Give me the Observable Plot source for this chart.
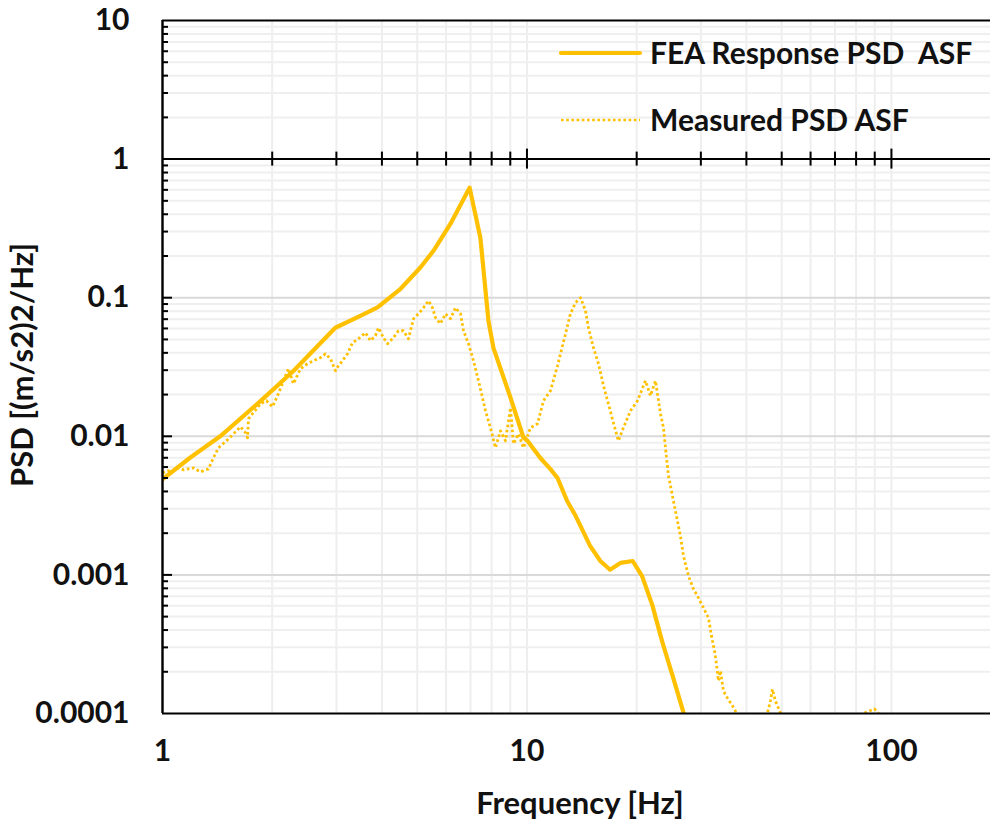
<!DOCTYPE html>
<html>
<head>
<meta charset="utf-8">
<script src="https://cdn.jsdelivr.net/npm/d3@7"></script>
<script src="https://cdn.jsdelivr.net/npm/@observablehq/plot@0.6"></script>
<style>
  html, body { margin: 0; padding: 0; background: #fff; }
  #chart { width: 990px; height: 823px; }
  svg text { font-family: Lato, "Open Sans", sans-serif; font-weight: 700; fill: #111; }
</style>
</head>
<body>
<div id="chart"></div>
<script>
// FEA response PSD (solid curve)
const feaFreq = [1.0, 1.19, 1.44, 1.86, 2.29, 2.98, 3.49, 3.89, 4.5, 5.1, 5.54, 6.17, 6.96, 7.45, 7.84, 8.09, 9.01, 9.78, 10.03, 10.87, 11.6, 12.13, 12.9, 13.6, 14.9, 15.9, 16.9, 18.05, 19.5, 20.7, 22.1, 23.5, 25.1, 26.9, 28.0];
const feaPsd  = [0.0049, 0.0070, 0.0100, 0.018, 0.0297, 0.0607, 0.074, 0.085, 0.116, 0.165, 0.218, 0.342, 0.622, 0.271, 0.068, 0.0435, 0.019, 0.0098, 0.0093, 0.0070, 0.0058, 0.0050, 0.0034, 0.00267, 0.00162, 0.00126, 0.00109, 0.00122, 0.00126, 0.00098, 0.00060, 0.00033, 0.000187, 0.000101, 0.00007];

// Measured PSD (dotted curve)
const measFreq = [1.000, 1.032, 1.072, 1.106, 1.142, 1.216, 1.271, 1.337, 1.380, 1.424, 1.508, 1.566, 1.637, 1.690, 1.711, 1.722, 1.857, 1.929, 2.003, 2.068,
  2.148, 2.216, 2.288, 2.391, 2.499, 2.596, 2.713, 2.800, 2.890, 2.983, 3.040, 3.118, 3.218, 3.321, 3.449, 3.605, 3.721, 3.840, 3.913, 4.039,
  4.143, 4.302, 4.440, 4.583, 4.731, 4.883, 5.040, 5.200, 5.368, 5.505, 5.610, 5.790, 5.976, 6.168, 6.366, 6.571, 6.697, 6.912, 7.134, 7.362,
  7.551, 7.695, 7.942, 8.197, 8.460, 8.730, 9.011, 9.183, 9.478, 9.781, 10.22, 10.69, 11.10, 11.60, 12.13, 12.36, 12.76, 13.16, 13.59, 14.03,
  14.47, 14.75, 15.22, 15.71, 16.22, 16.73, 17.27, 17.82, 18.39, 19.23, 20.10, 21.14, 21.82, 22.52, 23.25, 23.69, 23.99, 24.45, 25.07, 25.71,
  26.37, 26.88, 27.74, 28.63, 29.55, 30.50, 31.48, 32.08, 32.70, 33.11, 33.53, 33.96, 34.61, 35.49, 36.39, 37.33, 38.04, 41.05, 45.68, 46.56,
  47.15, 48.06, 49.61, 56.28, 89.83, 105.9];
const measPsd = [0.00545, 0.00563, 0.00563, 0.00592, 0.00573, 0.00592, 0.00554, 0.00582, 0.00700, 0.00826, 0.00943, 0.01042, 0.01171, 0.01060, 0.00975, 0.01338, 0.01717, 0.01805, 0.01633, 0.01961,
  0.02516, 0.03073, 0.02393, 0.03073, 0.03338, 0.03509, 0.03688, 0.03941, 0.03628, 0.02972, 0.03228, 0.03509, 0.03941, 0.04732, 0.05058, 0.05588, 0.04892, 0.05316, 0.06072, 0.05143,
  0.04654, 0.05143, 0.05776, 0.05776, 0.05058, 0.07053, 0.07664, 0.08469, 0.09512, 0.08469, 0.07171, 0.06493, 0.07664, 0.07053, 0.08469, 0.07664, 0.05776, 0.04654, 0.03509, 0.02516,
  0.01897, 0.01528, 0.01151, 0.00826, 0.01095, 0.00928, 0.01606, 0.00883, 0.01042, 0.00826, 0.01151, 0.01231, 0.01805, 0.02130, 0.03228, 0.03941, 0.05496, 0.07664, 0.09204, 0.1000,
  0.08054, 0.06072, 0.04355, 0.03338, 0.02315, 0.01717, 0.01252, 0.00928, 0.01151, 0.01528, 0.01805, 0.02516, 0.01961, 0.02516, 0.01454, 0.01151, 0.00826, 0.00519, 0.00372, 0.00267,
  0.00191, 0.00137, 0.000983, 0.000792, 0.000682, 0.000578, 0.000489, 0.000363, 0.000283, 0.000228, 0.000172, 0.000203, 0.000145, 0.000129, 0.000117, 0.000104, 0.0000975, 0.0000748, 0.000101, 0.000123,
  0.000150, 0.000123, 0.000101, 0.0000654, 0.000108, 0.0000654];

// Axis tick labels and grid values
const xTickLabels = [1, 10, 100];
const yTickLabels = [10, 1, 0.1, 0.01, 0.001, 0.0001];
const xMinor = [2, 3, 4, 5, 6, 7, 8, 9, 20, 30, 40, 50, 60, 70, 80, 90];
const xMajor = [10, 100];
const yMinor = [0.0002, 0.0003, 0.0004, 0.0005, 0.0006, 0.0007, 0.0008, 0.0009,
  0.002, 0.003, 0.004, 0.005, 0.006, 0.007, 0.008, 0.009,
  0.02, 0.03, 0.04, 0.05, 0.06, 0.07, 0.08, 0.09,
  0.2, 0.3, 0.4, 0.5, 0.6, 0.7, 0.8, 0.9,
  2, 3, 4, 5, 6, 7, 8, 9];
const yMajor = [0.001, 0.01, 0.1];

const seriesNames = ["FEA Response PSD  ASF", "Measured PSD ASF"];
const gold = "#FFC000";
const dotPattern = "2.6 2.6";

const fea = feaFreq.map((f, i) => ({f, v: feaPsd[i]}));
const meas = measFreq.map((f, i) => ({f, v: measPsd[i]}));

const W = 990, H = 823;

const plot = Plot.plot({
  width: W,
  height: H,
  marginLeft: 162,
  marginRight: 0,
  marginTop: 20,
  marginBottom: 110,
  x: {type: "log", domain: [1, 187], axis: null},
  y: {type: "log", domain: [0.0001, 10], axis: null},
  marks: [
    // grid
    Plot.ruleX([1, ...xMinor, ...xMajor], {stroke: "#eeeeee", strokeWidth: 2}),
    Plot.ruleY(yMinor, {stroke: "#efefef", strokeWidth: 2}),
    Plot.ruleY(yMajor, {stroke: "#d9d9d9", strokeWidth: 2}),
    // series
    Plot.line(meas, {x: "f", y: "v", stroke: gold, strokeWidth: 2.8, strokeDasharray: dotPattern, strokeLinecap: "butt", clip: true}),
    Plot.line(fea, {x: "f", y: "v", stroke: gold, strokeWidth: 4.2, strokeLinejoin: "round", strokeLinecap: "round", clip: true}),
    // frame lines
    Plot.ruleY([10, 0.0001], {stroke: "#000", strokeWidth: 2}),
    Plot.ruleY([1], {stroke: "#000", strokeWidth: 2}),
    Plot.ruleX([1], {stroke: "#000", strokeWidth: 2.4}),
    // ticks along the horizontal axis crossing at 1
    Plot.ruleX(xMinor, {y1: 1, y2: 1, insetTop: -7, insetBottom: -7, stroke: "#000", strokeWidth: 2}),
    Plot.ruleX(xMajor, {y1: 1, y2: 1, insetTop: -10, insetBottom: -10, stroke: "#000", strokeWidth: 2}),
    // ticks along the vertical axis
    Plot.ruleY(yMinor, {x1: 1, x2: 1, insetLeft: 0, insetRight: -6, stroke: "#000", strokeWidth: 2}),
    Plot.ruleY(yMajor, {x1: 1, x2: 1, insetLeft: 0, insetRight: -10, stroke: "#000", strokeWidth: 2}),
    // tick labels
    Plot.text(yTickLabels, {y: d => d, frameAnchor: "left", dx: -33, textAnchor: "end", text: d => String(d), fontSize: 30, fontWeight: 700, fill: "#111"}),
    Plot.text(xTickLabels, {x: d => d, frameAnchor: "bottom", dy: 47, textAnchor: "middle", text: d => String(d), fontSize: 30, fontWeight: 700, fill: "#111"})
  ]
});

document.getElementById("chart").appendChild(plot);

const svg = d3.select(plot);

// axis titles
svg.append("text")
  .attr("transform", "translate(33,365) rotate(-90)")
  .attr("text-anchor", "middle")
  .style("font-size", "31px")
  .text("PSD [(m/s2)2/Hz]");

svg.append("text")
  .attr("x", 580)
  .attr("y", 814)
  .attr("text-anchor", "middle")
  .style("font-size", "31px")
  .text("Frequency [Hz]");

// legend
const legend = svg.append("g");
const rows = [
  {name: seriesNames[0], y: 53, dash: null, width: 4.2},
  {name: seriesNames[1], y: 120, dash: dotPattern, width: 2.6}
];
rows.forEach(r => {
  const ln = legend.append("line")
    .attr("x1", 561).attr("x2", 640).attr("y1", r.y).attr("y2", r.y)
    .attr("stroke", gold).attr("stroke-width", r.width)
    .attr("stroke-linecap", r.dash ? "butt" : "round");
  if (r.dash) ln.attr("stroke-dasharray", r.dash);
  legend.append("text")
    .attr("x", 650).attr("y", r.y).attr("dy", "0.36em")
    .attr("text-anchor", "start")
    .style("font-size", "30px")
    .style("white-space", "pre")
    .text(r.name);
});
</script>
</body>
</html>
